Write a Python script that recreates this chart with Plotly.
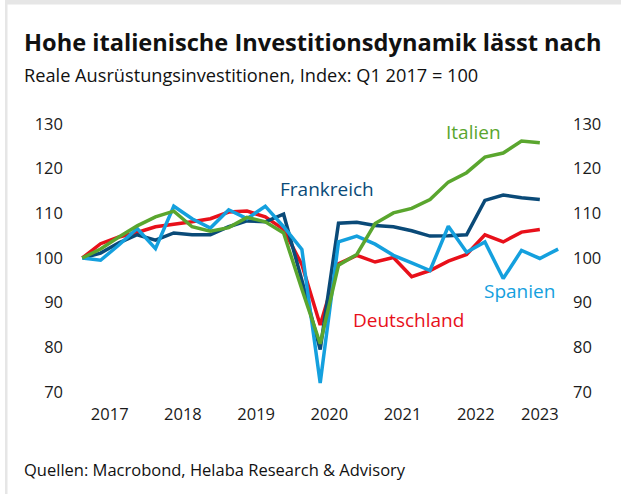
import plotly.graph_objects as go

quarters = [f"Q{q} {y}" for y in range(2017, 2024) for q in range(1, 5)][:27]

deutschland = [100, 103.2, 104.7, 105.7, 107.0, 107.5, 108.1, 108.8, 110.3, 110.5, 109.2, 106.4,
               98.5, 85.0, 98.7, 100.6, 99.1, 100.1, 95.8, 97.2, 99.3, 100.8, 105.2, 103.6, 105.8, 106.4]
frankreich = [100, 101.1, 103.4, 105.2, 104.0, 105.6, 105.2, 105.2, 107.0, 108.3, 108.1, 109.8,
              95.0, 79.5, 107.8, 108.0, 107.3, 107.0, 106.1, 104.9, 105.0, 105.2, 112.9, 114.1, 113.5, 113.1]
italien = [100, 102.0, 104.7, 107.2, 109.2, 110.5, 107.0, 106.0, 106.8, 109.1, 108.1, 105.6,
           93.0, 80.8, 98.4, 100.8, 107.7, 110.1, 111.1, 113.1, 117.0, 119.1, 122.6, 123.5, 126.2, 125.8]
spanien = [100, 99.5, 102.9, 106.6, 102.1, 111.6, 108.8, 106.7, 110.8, 108.8, 111.6, 107.0,
           101.9, 72.0, 103.6, 104.9, 103.1, 100.6, 98.9, 97.2, 107.1, 101.3, 103.6, 95.4, 101.7, 99.9, 102.0]

y_ticks = [70, 80, 90, 100, 110, 120, 130]
years = ["2017", "2018", "2019", "2020", "2021", "2022", "2023"]

C_DE = "#e8101a"
C_FR = "#0a4a78"
C_IT = "#5aa62e"
C_ES = "#14a0de"

FONT = "Open Sans"

# year tick positions: centre of the quarters available for each year
idx = list(range(len(quarters)))
year_pos = []
for yr in years:
    pos = [i for i, q in zip(idx, quarters) if q.endswith(yr)]
    year_pos.append(sum(pos) / len(pos))

fig = go.Figure()
series = [("Deutschland", deutschland, C_DE), ("Frankreich", frankreich, C_FR),
          ("Spanien", spanien, C_ES), ("Italien", italien, C_IT)]
for name, vals, col in series:
    fig.add_trace(go.Scatter(x=idx[:len(vals)], y=vals, mode="lines", name=name,
                             line=dict(color=col, width=3.5), showlegend=False,
                             hoverinfo="skip"))
# invisible trace for right axis
fig.add_trace(go.Scatter(x=idx[:len(spanien)], y=spanien, yaxis="y2", mode="lines",
                         line=dict(width=0), opacity=0, showlegend=False, hoverinfo="skip"))

W, H = 621, 494
L, R, T, B = 68, 53, 124, 102
pw, ph = W - L - R, H - T - B

def px(x):
    return (x - L) / pw

def py(y):
    return (H - B - y) / ph

axis_font = dict(family=FONT, size=16.5, color="#1a1a1a")

fig.update_layout(
    width=W, height=H,
    margin=dict(l=L, r=R, t=T, b=B),
    paper_bgcolor="white", plot_bgcolor="white",
    xaxis=dict(range=[-0.78, 26.54], tickvals=year_pos, ticktext=years,
               showgrid=False, zeroline=False, showline=False, ticks="",
               tickfont=axis_font, ticklabelstandoff=10, fixedrange=True),
    yaxis=dict(range=[70, 130], tickvals=y_ticks, showgrid=False, zeroline=False,
               showline=False, ticks="", tickfont=axis_font, ticklabelstandoff=4,
               fixedrange=True),
    yaxis2=dict(range=[70, 130], tickvals=y_ticks, overlaying="y", side="right",
                showgrid=False, zeroline=False, showline=False, ticks="",
                tickfont=axis_font, ticklabelstandoff=4, fixedrange=True),
)

ann = [
    dict(text="<b>Hohe italienische Investitionsdynamik lässt nach</b>", x=px(22), y=py(41.5),
         xanchor="left", yanchor="middle", font=dict(family=FONT, size=23.6, color="#111")),
    dict(text="Reale Ausrüstungsinvestitionen, Index: Q1 2017 = 100", x=px(22), y=py(75),
         xanchor="left", yanchor="middle", font=dict(family=FONT, size=18.2, color="#111")),
    dict(text="Quellen: Macrobond, Helaba Research &amp; Advisory", x=px(22), y=py(469),
         xanchor="left", yanchor="middle", font=dict(family=FONT, size=16.5, color="#111")),
    dict(text="Frankreich", x=px(326.5), y=py(188.5), xanchor="center", yanchor="middle",
         font=dict(family=FONT, size=19, color=C_FR)),
    dict(text="Italien", x=px(473), y=py(132), xanchor="center", yanchor="middle",
         font=dict(family=FONT, size=19, color=C_IT)),
    dict(text="Spanien", x=px(519), y=py(291), xanchor="center", yanchor="middle",
         font=dict(family=FONT, size=19, color=C_ES)),
    dict(text="Deutschland", x=px(408), y=py(320), xanchor="center", yanchor="middle",
         font=dict(family=FONT, size=19, color=C_DE)),
]
for a in ann:
    a.update(xref="paper", yref="paper", showarrow=False)
fig.update_layout(annotations=ann)

# light grey frame (left and top edges)
fig.add_shape(type="rect", xref="paper", yref="paper", x0=px(5), x1=px(W + 5),
              y0=py(0), y1=py(4.5), fillcolor="#e6e6e6", line=dict(width=0), layer="below")
fig.add_shape(type="rect", xref="paper", yref="paper", x0=px(5), x1=px(7.5),
              y0=py(0), y1=py(H + 5), fillcolor="#e6e6e6", line=dict(width=0), layer="below")

fig.write_html("out.html", config={"displayModeBar": False, "staticPlot": True},
               post_script="document.body.style.margin='0';document.body.style.overflow='hidden';")
